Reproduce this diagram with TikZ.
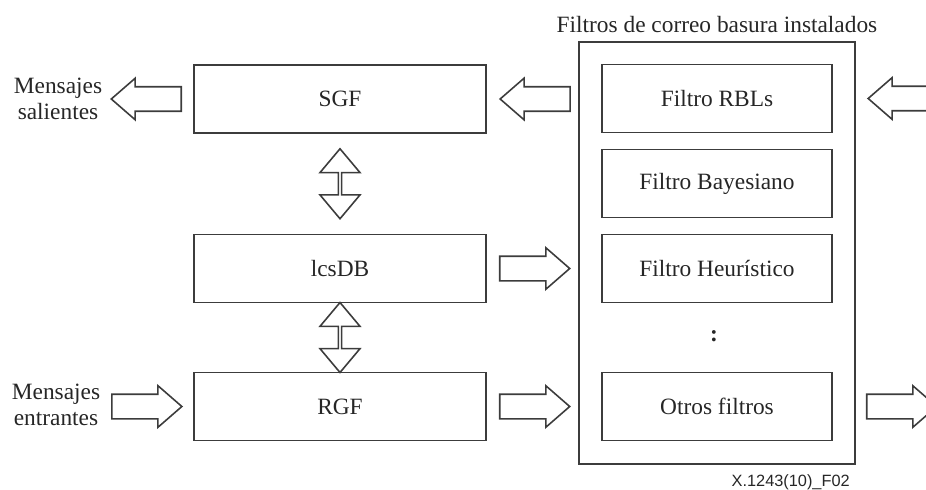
\documentclass[tikz,border=0pt]{standalone}
\usepackage{fontspec}
\setmainfont{Liberation Serif}
\newfontfamily\figsans{Liberation Sans}
\usepackage{tikz}
\usetikzlibrary{shapes.arrows, positioning, calc}
\definecolor{LineGray}{HTML}{3C3C3C}
\definecolor{TextGray}{HTML}{262626}
\tikzset{
  blockbox/.style={rectangle, draw=LineGray, line width=1.1pt, text=TextGray,
                   font=\fontsize{13.3}{16}\selectfont, minimum height=1.36cm},
  mainbox/.style={blockbox, minimum width=5.84cm},
  filterbox/.style={blockbox, minimum width=4.6cm},
  sidetext/.style={text=TextGray, font=\fontsize{13.3}{15}\selectfont, align=center},
  flowarrow/.style={single arrow, draw=LineGray, line width=0.9pt, fill=white,
                    minimum height=1.4cm, minimum width=0.8cm, inner xsep=0pt,
                    inner ysep=0.23cm, single arrow head extend=0.17cm,
                    single arrow tip angle=82},
  linkarrow/.style={double arrow, draw=LineGray, line width=0.9pt, fill=white,
                    minimum height=1.4cm, minimum width=0.8cm, inner xsep=0pt,
                    inner ysep=0.23cm, double arrow head extend=0.17cm,
                    double arrow tip angle=80, shape border rotate=90}
}
\begin{document}
\begin{tikzpicture}[x=0.02cm, y=-0.02cm]
    \useasboundingbox (0,0) rectangle (926,490);
    \clip (0,0) rectangle (926,490);

    % Main blocks
    \node[mainbox] (sgf) at (340,99) {SGF};
    \node[mainbox] (lcsdb) at (340,268.5) {lcsDB};
    \node[mainbox] (rgf) at (340,406.5) {RGF};

    % Installed filters
    \node[rectangle, draw=LineGray, line width=1.1pt, minimum width=5.52cm,
          minimum height=8.44cm] (filters) at (717,253) {};
    \node[sidetext, above=0.04cm of filters] (ftitle) {Filtros de correo basura instalados};
    \node[filterbox] (rbl) at (717,98.5) {Filtro RBLs};
    \node[filterbox] (bayes) at (717,183.5) {Filtro Bayesiano};
    \node[filterbox] (heur) at (717,268.5) {Filtro Heurístico};
    \node[sidetext] (dots) at (714,336) {\textbf{:}};
    \node[filterbox] (others) at (717,406.5) {Otros filtros};

    % Side texts
    \node[sidetext] (outmsg) at (58,99) {Mensajes\\salientes};
    \node[sidetext] (inmsg) at (56,405) {Mensajes\\entrantes};
    \node[anchor=east, text=TextGray, font=\figsans\fontsize{9.3}{11}\selectfont]
         (figid) at (filters.east |- 0,482) {X.1243(10)\_F02};

    % Block arrows
    \node[flowarrow, shape border rotate=180, anchor=tail] (a1) at ($(sgf.west)+(-11,0)$) {};
    \node[flowarrow, shape border rotate=180, anchor=tip] (a2) at ($(sgf.east)+(12,0)$) {};
    \node[flowarrow, anchor=tail] (a3) at ($(lcsdb.east)+(12,0)$) {};
    \node[flowarrow, anchor=tail] (a4) at ($(rgf.east)+(12,0)$) {};
    \node[flowarrow, anchor=tip] (a5) at ($(rgf.west)+(-10,0)$) {};
    \node[flowarrow, shape border rotate=180, anchor=tip] (a6) at ($(filters.east |- rbl.east)+(11,0)$) {};
    \node[flowarrow, anchor=tail] (a7) at ($(filters.east |- others.east)+(10,0)$) {};

    % Links to lcsDB
    \node[linkarrow] (d1) at ($(sgf.south)!0.5!(lcsdb.north)$) {};
    \node[linkarrow] (d2) at ($(lcsdb.south)!0.5!(rgf.north)$) {};
\end{tikzpicture}
\end{document}
